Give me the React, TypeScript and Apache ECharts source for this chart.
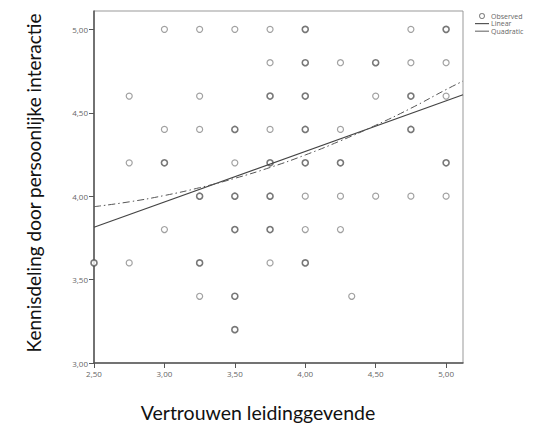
import React, { useEffect, useRef } from "react";
import * as echarts from "echarts";

// Observed points (x, y, number of overlapping cases)
const obsX = [
  3.0, 3.25, 3.5, 3.75, 4.0, 4.75, 5.0,
  3.75, 4.0, 4.25, 4.5, 4.75, 5.0,
  2.75, 3.25, 3.75, 4.0, 4.5, 4.75, 5.0,
  3.0, 3.25, 3.5, 3.75, 4.0, 4.25, 4.75,
  2.75, 3.0, 3.5, 3.75, 4.0, 4.25, 5.0,
  3.25, 3.5, 3.75, 4.0, 4.25, 4.5, 4.75, 5.0,
  3.0, 3.5, 3.75, 4.0, 4.25,
  2.5, 2.75, 3.25, 3.75, 4.0,
  3.25, 3.5, 4.33,
  3.5,
];
const obsY = [
  5.0, 5.0, 5.0, 5.0, 5.0, 5.0, 5.0,
  4.8, 4.8, 4.8, 4.8, 4.8, 4.8,
  4.6, 4.6, 4.6, 4.6, 4.6, 4.6, 4.6,
  4.4, 4.4, 4.4, 4.4, 4.4, 4.4, 4.4,
  4.2, 4.2, 4.2, 4.2, 4.2, 4.2, 4.2,
  4.0, 4.0, 4.0, 4.0, 4.0, 4.0, 4.0, 4.0,
  3.8, 3.8, 3.8, 3.8, 3.8,
  3.6, 3.6, 3.6, 3.6, 3.6,
  3.4, 3.4, 3.4,
  3.2,
];
const obsCount = [
  1, 1, 1, 1, 2, 1, 2,
  1, 2, 1, 2, 1, 1,
  1, 1, 2, 2, 1, 2, 1,
  1, 1, 2, 1, 2, 1, 2,
  1, 2, 1, 2, 2, 2, 2,
  2, 2, 2, 1, 1, 1, 1, 1,
  1, 2, 2, 1, 1,
  2, 1, 2, 1, 2,
  1, 2, 1,
  2,
];

// Fit lines
const linearX = [2.5, 5.12];
const linearY = [3.814, 4.608];
const quadX = [2.5, 2.75, 3.0, 3.25, 3.5, 3.75, 4.0, 4.25, 4.5, 4.75, 5.0, 5.12];
const quadY = [3.937, 3.966, 4.004, 4.051, 4.107, 4.172, 4.247, 4.332, 4.425, 4.527, 4.639, 4.69];

const xTicks = [2.5, 3.0, 3.5, 4.0, 4.5, 5.0];
const yTicks = [3.0, 3.5, 4.0, 4.5, 5.0];
const legendNames = ["Observed", "Linear", "Quadratic"];

const fmt = (v: number) => v.toFixed(2).replace(".", ",");
const QUAD_DASH = [7, 3, 1.5, 3];

export default function App() {
  const ref = useRef<HTMLDivElement>(null);
  useEffect(() => {
    if (!ref.current) return;
    const chart = echarts.init(ref.current, undefined, { renderer: "svg" });
    const labelStyle = { color: "#666", fontSize: 8, fontFamily: "Open Sans" };
    const legendTop = 16;
    const legendStep = 7.6;
    const legendText = legendNames.map((name, i) => ({
      type: "text",
      x: 491,
      y: legendTop + i * legendStep,
      style: {
        text: name,
        fill: "#666",
        fontSize: 7,
        lineHeight: 7,
        fontFamily: "Open Sans",
        verticalAlign: "middle",
      },
    }));
    chart.setOption({
      animation: false,
      backgroundColor: "#fff",
      grid: {
        left: 94,
        top: 11,
        right: 74,
        bottom: 65,
        show: true,
        borderColor: "#999",
        borderWidth: 1,
      },
      xAxis: {
        type: "value",
        min: 2.5,
        max: 5.12,
        axisLine: { show: true, lineStyle: { color: "#555", width: 1.5 } },
        axisTick: { show: true, length: 5, customValues: xTicks, lineStyle: { color: "#555" } },
        axisLabel: { ...labelStyle, margin: 6, customValues: xTicks, formatter: (v: number) => fmt(v) },
        splitLine: { show: false },
      },
      yAxis: {
        type: "value",
        min: 3,
        max: 5.11,
        axisLine: { show: true, lineStyle: { color: "#555", width: 1.5 } },
        axisTick: { show: true, length: 5, customValues: yTicks, lineStyle: { color: "#555" } },
        axisLabel: { ...labelStyle, margin: 6, customValues: yTicks, formatter: (v: number) => fmt(v) },
        splitLine: { show: false },
      },
      series: [
        {
          name: legendNames[0],
          type: "scatter",
          symbol: "circle",
          symbolSize: 6,
          clip: false,
          data: obsX.map((x, i) => ({
            value: [x, obsY[i]],
            itemStyle: {
              color: "#fff",
              borderColor: obsCount[i] > 1 ? "#555" : "#8a8a8a",
              borderWidth: obsCount[i] > 1 ? 1.6 : 1.2,
            },
          })),
          z: 3,
        },
        {
          name: legendNames[1],
          type: "line",
          symbol: "none",
          lineStyle: { color: "#444", width: 1.2 },
          data: linearX.map((x, i) => [x, linearY[i]]),
          z: 4,
        },
        {
          name: legendNames[2],
          type: "line",
          symbol: "none",
          smooth: true,
          lineStyle: { color: "#555", width: 1, type: QUAD_DASH },
          data: quadX.map((x, i) => [x, quadY[i]]),
          z: 4,
        },
      ],
      graphic: [
        {
          type: "circle",
          shape: { cx: 482, cy: legendTop, r: 2.5 },
          style: { fill: "#fff", stroke: "#888", lineWidth: 1.1 },
        },
        {
          type: "line",
          shape: { x1: 475, y1: legendTop + legendStep, x2: 489, y2: legendTop + legendStep },
          style: { stroke: "#555", lineWidth: 1.2 },
        },
        {
          type: "line",
          shape: { x1: 475, y1: legendTop + 2 * legendStep, x2: 489, y2: legendTop + 2 * legendStep },
          style: { stroke: "#777", lineWidth: 1.2 },
        },
        ...legendText,
        {
          type: "text",
          x: 258,
          y: 412,
          style: {
            text: "Vertrouwen leidinggevende",
            fill: "#111",
            fontSize: 19.5,
            fontFamily: "Lato",
            align: "center",
            verticalAlign: "middle",
          },
        },
        {
          type: "text",
          x: 33,
          y: 183,
          rotation: Math.PI / 2,
          style: {
            text: "Kennisdeling door persoonlijke interactie",
            fill: "#111",
            fontSize: 19,
            fontFamily: "Lato",
            align: "center",
            verticalAlign: "middle",
          },
        },
      ],
    });
    return () => chart.dispose();
  }, []);
  return (
    <div
      ref={ref}
      style={{ position: "fixed", left: 0, top: 0, width: 537, height: 428 }}
    />
  );
}
